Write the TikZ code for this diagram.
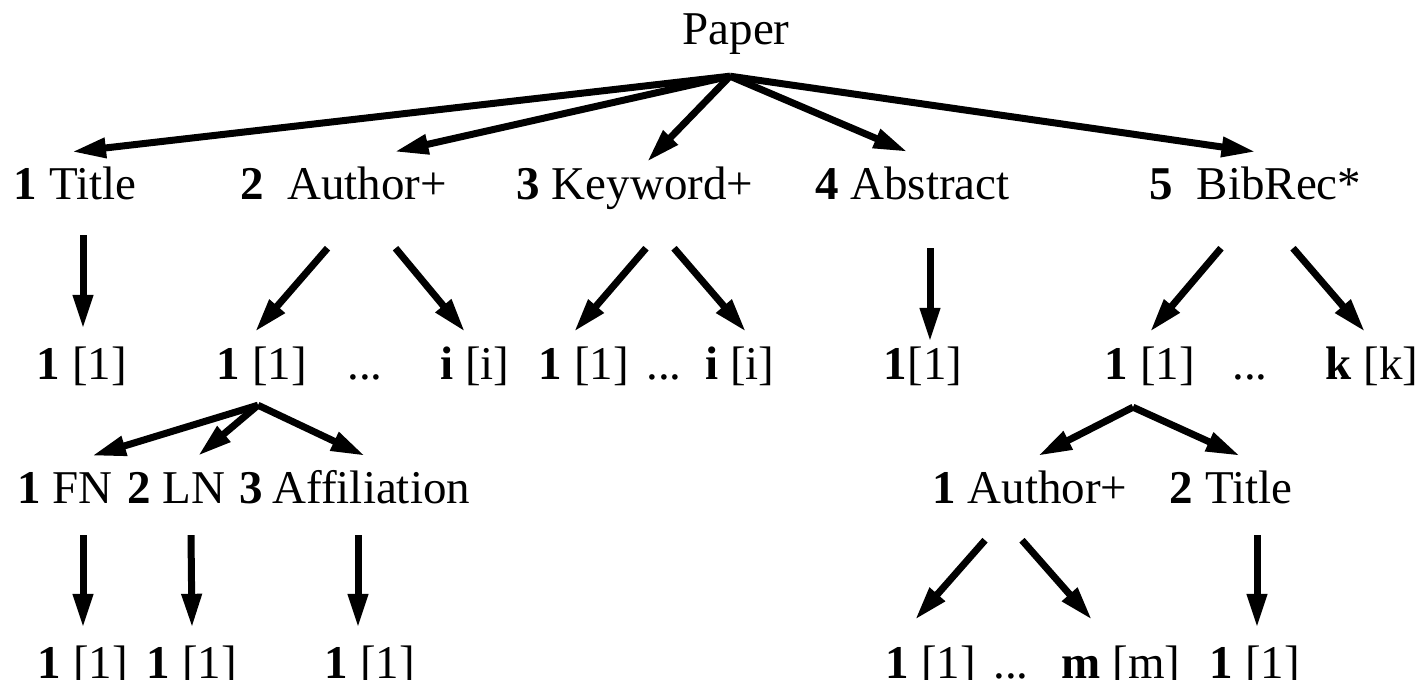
\documentclass[tikz,border=0pt]{standalone}
\usepackage{fontspec}
\setmainfont{Liberation Serif}
\usepackage{tikz}
\usetikzlibrary{arrows.meta}

\tikzset{
  lbl/.style={anchor=base, inner sep=0pt, text height=47pt, text depth=30pt,
    font=\fontsize{47pt}{56pt}\selectfont},
  arr/.style={line width=7pt, -{Triangle[length=34pt,width=19pt]}}
}

\begin{document}
\begin{tikzpicture}[x=1pt,y=-1pt]
    \useasboundingbox (0,0) rectangle (1422,680);
    % root
    \node[lbl] (paper) at (736,44) {Paper};
    \coordinate (root) at ([shift={(-6,2)}]paper.south);
    % first level
    \node[lbl] (ttl)  at (75,199)     {\textbf{1} Title};
    \node[lbl] (auth) at (343.5,199)  {\textbf{2}\ \ Author+};
    \node[lbl] (kwd)  at (635,199)    {\textbf{3} Keyword+};
    \node[lbl] (abst) at (912.5,199)  {\textbf{4} Abstract};
    \node[lbl] (bib)  at (1255.5,199) {\textbf{5}\ \ BibRec*};
    % instances
    \node[lbl] (ttlv)     at (82,379)   {\textbf{1} [1]};
    \node[lbl] (authv1)   at (262,379)  {\textbf{1} [1]};
    \node[lbl] (authdots) at (365,379)  {...};
    \node[lbl] (authvi)   at (475,379)  {\textbf{i} [i]};
    \node[lbl] (kwdv1)    at (584,379)  {\textbf{1} [1]};
    \node[lbl] (kwddots)  at (664,379)  {...};
    \node[lbl] (kwdvi)    at (740,379)  {\textbf{i} [i]};
    \node[lbl] (abstv)    at (923,379)  {\textbf{1}[1]};
    \node[lbl] (bibv1)    at (1150,379) {\textbf{1} [1]};
    \node[lbl] (bibdots)  at (1250,379) {...};
    \node[lbl] (bibvk)    at (1372,379) {\textbf{k} [k]};
    % second level
    \node[lbl] (fn)     at (65,503)   {\textbf{1} FN};
    \node[lbl] (ln)     at (176,503)  {\textbf{2} LN};
    \node[lbl] (aff)    at (355,503)  {\textbf{3}\hspace{9pt}Affiliation};
    \node[lbl] (bauth)  at (1030,503) {\textbf{1} Author+};
    \node[lbl] (btitle) at (1231,503) {\textbf{2} Title};
    % leaves
    \node[lbl] (fnv)       at (83,678)   {\textbf{1} [1]};
    \node[lbl] (lnv)       at (192,678)  {\textbf{1} [1]};
    \node[lbl] (affv)      at (370,678)  {\textbf{1} [1]};
    \node[lbl] (bauthv1)   at (931,678)  {\textbf{1} [1]};
    \node[lbl] (bauthdots) at (1011,678) {...};
    \node[lbl] (bauthvm)   at (1121,678) {\textbf{m} [m]};
    \node[lbl] (btitlev)   at (1255,678) {\textbf{1} [1]};
    \coordinate (authhub) at ([shift={(-4,-4)}]authv1.south);
    \coordinate (bibhub)  at ([shift={(-17,-2)}]bibv1.south);

    % root to fields
    \draw[arr] (root) -- ([xshift=-3pt]ttl.north);
    \draw[arr] (root) -- ([xshift=51pt]auth.north);
    \draw[arr] (root) -- ([shift={(12,10)}]kwd.north);
    \draw[arr] (root) -- ([xshift=-5pt]abst.north);
    \draw[arr] (root) -- (bib.north);
    % fields to instances
    \draw[arr] ([shift={(8,6)}]ttl.south) -- ([shift={(1,-3)}]ttlv.north);
    \draw[arr] ([shift={(-16,19)}]auth.south) -- ([xshift=-7pt]authv1.north);
    \draw[arr] ([shift={(52,19)}]auth.south) -- ([xshift=-10pt]authvi.north);
    \draw[arr] ([shift={(11,19)}]kwd.south) -- ([xshift=-10pt]kwdv1.north);
    \draw[arr] ([shift={(39,19)}]kwd.south) -- ([xshift=6pt]kwdvi.north);
    \draw[arr] ([shift={(17.5,19)}]abst.south) -- ([shift={(7,10)}]abstv.north);
    \draw[arr] ([shift={(-34.5,19)}]bib.south) -- (bibv1.north);
    \draw[arr] ([shift={(37.5,19)}]bib.south) -- ([xshift=-7pt]bibvk.north);
    % author parts
    \draw[arr] (authhub) -- ([xshift=27pt]fn.north);
    \draw[arr] (authhub) -- ([xshift=22pt]ln.north);
    \draw[arr] (authhub) -- ([xshift=10pt]aff.north);
    \draw[arr] ([shift={(18,2)}]fn.south) -- ([yshift=3pt]fnv.north);
    \draw[arr] ([shift={(15,2)}]ln.south) -- ([yshift=3pt]lnv.north);
    \draw[arr] ([shift={(3,2)}]aff.south) -- ([shift={(-12,-3)}]affv.north);
    % bibrec parts
    \draw[arr] (bibhub) -- ([xshift=8pt]bauth.north);
    \draw[arr] (bibhub) -- ([xshift=9pt]btitle.north);
    \draw[arr] ([shift={(-45,7)}]bauth.south) -- ([shift={(-16,-11)}]bauthv1.north);
    \draw[arr] ([shift={(-8,7)}]bauth.south) -- ([shift={(-29,-11)}]bauthvm.north);
    \draw[arr] ([shift={(26,2)}]btitle.south) -- ([shift={(2,-3)}]btitlev.north);
\end{tikzpicture}
\end{document}
